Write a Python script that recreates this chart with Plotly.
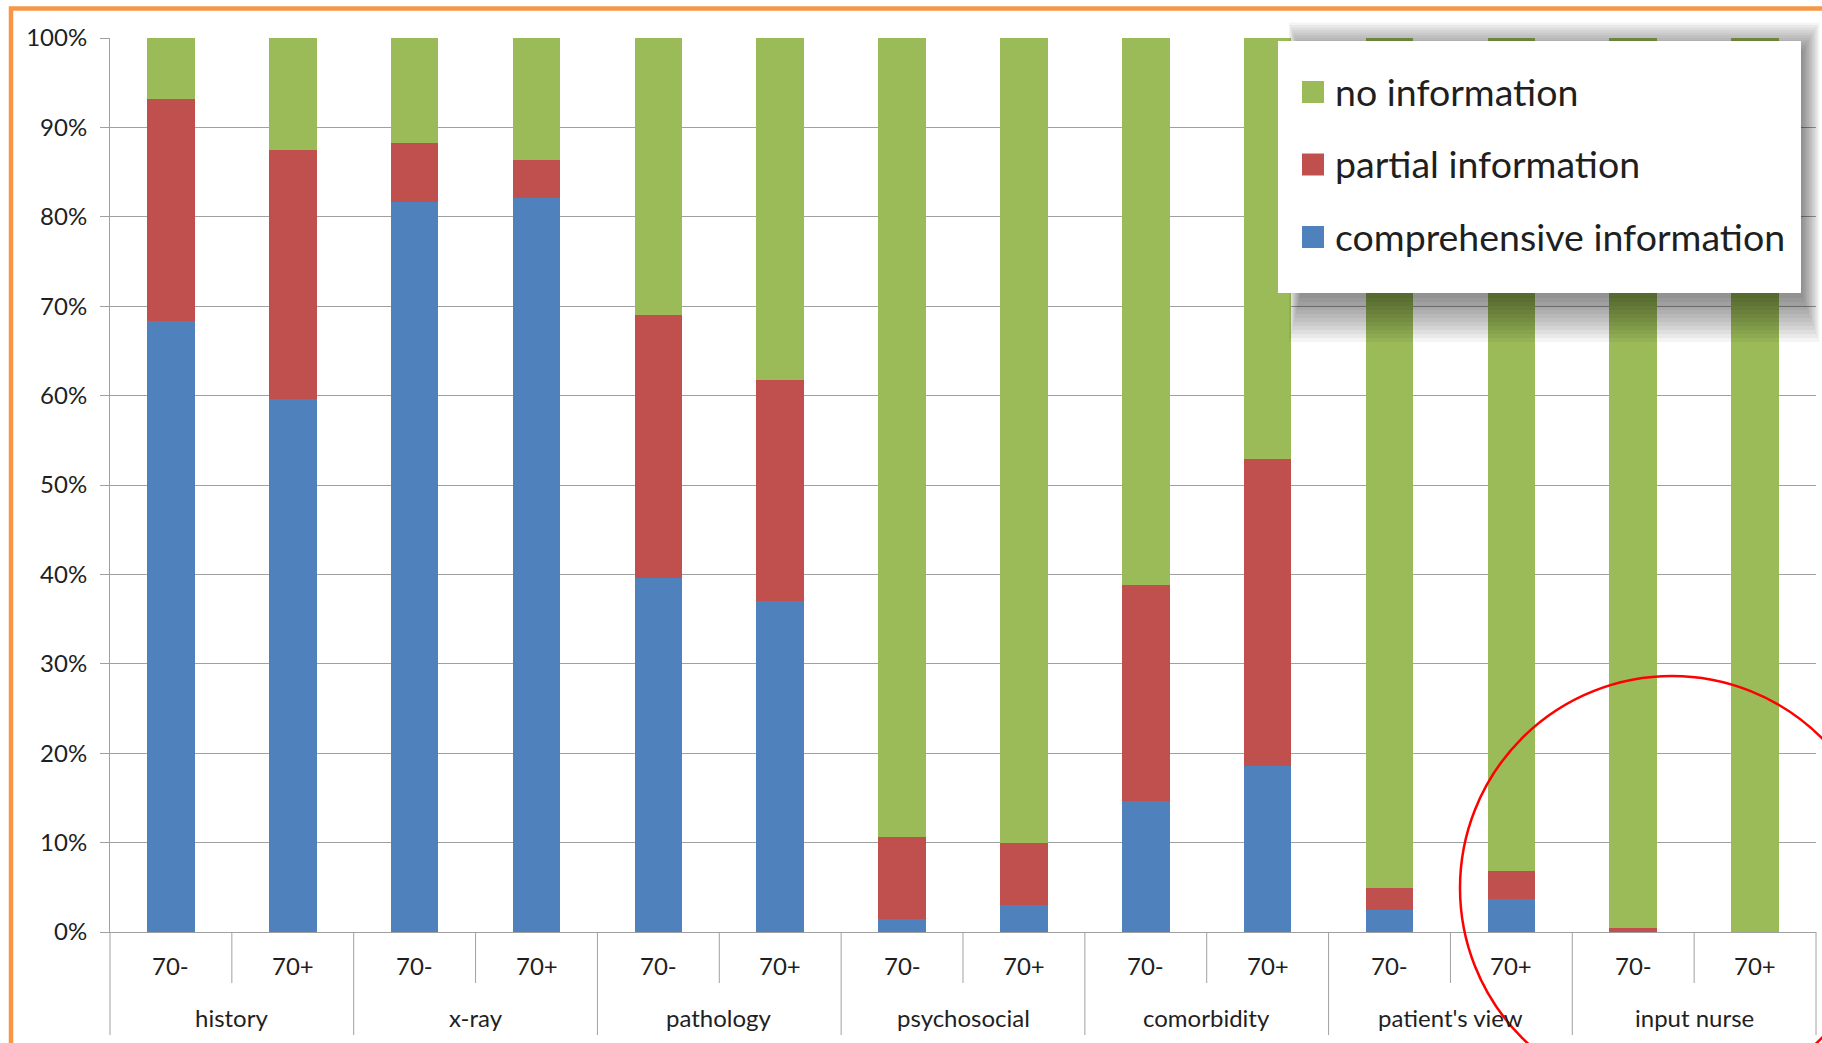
import plotly.graph_objects as go

# Categories: information item x age group
groups = ["history", "x-ray", "pathology", "psychosocial", "comorbidity", "patient's view", "input nurse"]
ages = ["70-", "70+"]

# Share of referral letters (%) per item and age group
comprehensive = [68.4, 59.6, 81.7, 82.1, 39.6, 37.0, 1.4, 3.0, 14.7, 18.6, 2.5, 3.7, 0.0, 0.0]
partial = [24.8, 27.9, 6.6, 4.3, 29.4, 24.7, 9.2, 6.9, 24.1, 34.3, 2.4, 3.1, 0.4, 0.0]
no_info = [6.8, 12.5, 11.7, 13.6, 31.0, 38.3, 89.4, 90.1, 61.2, 47.1, 95.1, 93.2, 99.6, 100.0]

series_names = ["comprehensive information", "partial information", "no information"]
series_values = [comprehensive, partial, no_info]
series_colors = ["#4F81BD", "#C0504D", "#9BBB59"]

W, H = 1822, 1043
L, R, T, B = 110, 6, 38, 111
PW, PH = W - L - R, H - T - B
FONT = "Lato"
TXT = "#1f1f1f"
GRID = "#A0A0A0"


def px(xp):
    return (xp - L) / PW


def py(yp):
    return (H - B - yp) / PH


x = [[g for g in groups for _ in ages], [a for _ in groups for a in ages]]
n_bars = len(x[0])

fig = go.Figure()
for name, vals, col in zip(series_names, series_values, series_colors):
    fig.add_trace(go.Bar(x=x, y=vals, name=name, marker=dict(color=col, line=dict(width=0)),
                         showlegend=False))

shapes = []
annotations = []

# outer frame (only its top and left edges fall inside the page)
shapes.append(dict(type="rect", xref="paper", yref="paper",
                   x0=px(11), x1=px(1840), y0=py(8.5), y1=py(1060),
                   line=dict(color="#F79646", width=4.5), fillcolor="rgba(0,0,0,0)", layer="above"))

# two-level category axis: short dividers between age groups, long ones between items
for k in range(n_bars + 1):
    bottom = 1035 if k % len(ages) == 0 else 983
    shapes.append(dict(type="line", xref="paper", yref="paper",
                       x0=k / n_bars, x1=k / n_bars, y0=py(932), y1=py(bottom),
                       line=dict(color=GRID, width=1)))
for i, a in enumerate(x[1]):
    annotations.append(dict(xref="paper", yref="paper", x=(i + 0.5) / n_bars, y=py(966),
                            xanchor="center", yanchor="middle", showarrow=False, text=a,
                            font=dict(family=FONT, size=24, color=TXT)))
for j, g in enumerate(groups):
    annotations.append(dict(xref="paper", yref="paper", x=(j + 0.5) / len(groups), y=py(1017),
                            xanchor="center", yanchor="middle", showarrow=False, text=g,
                            font=dict(family=FONT, size=24, color=TXT)))

# legend panel with a soft drop shadow
lx0, lx1, ly0, ly1 = 1278, 1801, 41, 293
for k in range(12):
    shapes.append(dict(type="rect", xref="paper", yref="paper",
                       x0=px(1300 - k), x1=px(1803 + 1.5 * k),
                       y0=py(50 - 2.5 * k), y1=py(298 + 4 * k),
                       line=dict(width=0), fillcolor="rgba(0,0,0,0.042)", layer="above"))
shapes.append(dict(type="rect", xref="paper", yref="paper",
                   x0=px(lx0), x1=px(lx1), y0=py(ly0), y1=py(ly1),
                   line=dict(width=0), fillcolor="white", layer="above"))

legend_order = [2, 1, 0]
legend_y = [92, 164.5, 237]
for idx, yc in zip(legend_order, legend_y):
    shapes.append(dict(type="rect", xref="paper", yref="paper",
                       x0=px(1302), x1=px(1324), y0=py(yc - 11), y1=py(yc + 11),
                       line=dict(width=0), fillcolor=series_colors[idx], layer="above"))
    annotations.append(dict(xref="paper", yref="paper", x=px(1333), y=py(yc - 1),
                            xanchor="left", yanchor="middle", showarrow=False,
                            text=series_names[idx], font=dict(family=FONT, size=37.5, color=TXT)))

# highlight ring
cx, cy, r = 1672, 888, 212
shapes.append(dict(type="circle", xref="paper", yref="paper",
                   x0=px(cx - r), x1=px(cx + r), y0=py(cy + r), y1=py(cy - r),
                   line=dict(color="#FF0000", width=2.5), fillcolor="rgba(0,0,0,0)", layer="above"))

fig.update_layout(
    width=W, height=H,
    margin=dict(l=L, r=R, t=T, b=B, pad=0),
    barmode="stack", bargap=0.61,
    paper_bgcolor="white", plot_bgcolor="white",
    font=dict(family=FONT, size=24, color=TXT),
    shapes=shapes, annotations=annotations,
    xaxis=dict(type="multicategory", showticklabels=False, ticks="", showdividers=False,
               showline=True, linecolor=GRID, linewidth=1, showgrid=False),
    yaxis=dict(range=[0, 100], dtick=10, ticksuffix="%", ticks="outside", ticklen=9,
               tickcolor=GRID, showline=True, linecolor=GRID, linewidth=1,
               showgrid=True, gridcolor=GRID, gridwidth=1, zeroline=False,
               ticklabelstandoff=8,
               tickfont=dict(family=FONT, size=24, color=TXT)),
)

fig.write_html("out.html")
